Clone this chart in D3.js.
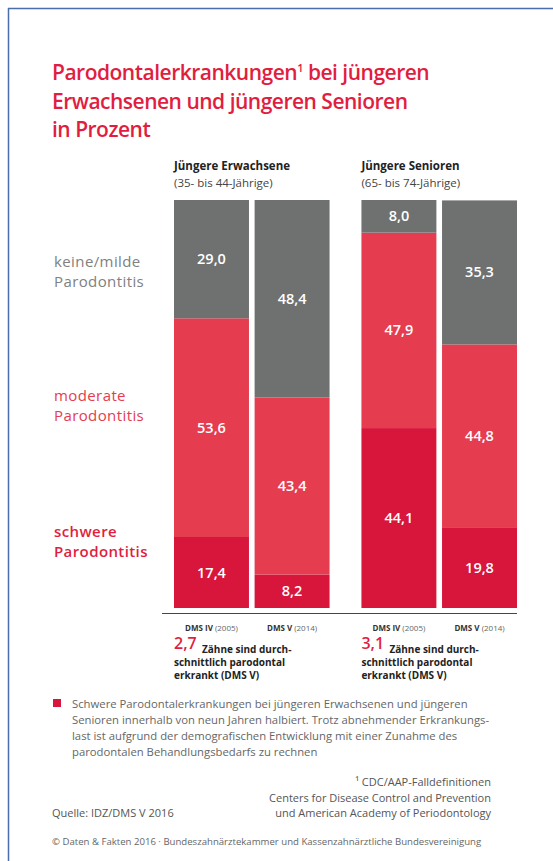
<!DOCTYPE html>
<html>
<head>
<meta charset="utf-8">
<script src="https://cdn.jsdelivr.net/npm/d3@7"></script>
<style>
body { margin: 0; background: #fff; }
svg { display: block; font-family: "Open Sans", sans-serif; }
</style>
</head>
<body>
<svg id="chart" width="553" height="861"></svg>
<script>
// Werte in Prozent
var groups = ["Jüngere Erwachsene", "Jüngere Senioren"];
var groupSub = ["(35- bis 44-Jährige)", "(65- bis 74-Jährige)"];
var studies = ["DMS IV", "DMS V"];
var studyYears = ["(2005)", "(2014)"];
var categories = ["schwer", "moderat", "keine"];
var schwer  = [17.4, 8.2, 44.1, 19.8];
var moderat = [53.6, 43.4, 47.9, 44.8];
var keine   = [29.0, 48.4, 8.0, 35.3];
var teeth = ["2,7", "3,1"];

var colors = { schwer: "#d8163c", moderat: "#e53c50", keine: "#6f7170" };
var red = "#e11d40";

var rows = [];
groups.forEach(function(g, gi) {
  studies.forEach(function(s, si) {
    var i = gi * 2 + si;
    rows.push({ group: g, study: s, schwer: schwer[i], moderat: moderat[i], keine: keine[i] });
  });
});

var svg = d3.select("#chart");

// Rahmen
svg.append("line").attr("x1", 8).attr("x2", 553).attr("y1", 8.5).attr("y2", 8.5)
  .attr("stroke", "#4a6db0").attr("stroke-width", 1.5);
svg.append("line").attr("x1", 8.5).attr("x2", 8.5).attr("y1", 8).attr("y2", 861)
  .attr("stroke", "#4a6db0").attr("stroke-width", 1.5);

// Titel
var title = ["Parodontalerkrankungen", "Erwachsenen und jüngeren Senioren", "in Prozent"];
var tt = svg.append("g").selectAll("text").data(title).enter().append("text")
  .attr("x", 52).attr("y", function(d, i) { return 80 + i * 28.5; })
  .attr("fill", red).attr("font-size", 21).attr("font-weight", 600)
  .attr("letter-spacing", -0.5)
  .text(function(d) { return d; });
var first = d3.select(tt.nodes()[0]);
first.append("tspan").attr("font-size", 11).attr("dy", -8).text("1");
first.append("tspan").attr("dy", 8).text(" bei jüngeren");

var x0 = d3.scaleBand().domain(groups).range([174, 517]).paddingInner(0.17);
var x1 = d3.scaleBand().domain(studies).range([0, x0.bandwidth()]).paddingInner(0.07);
var y = d3.scaleLinear().domain([0, 100]).range([608, 200]);

var stack = d3.stack().keys(categories);
var series = stack(rows);

svg.append("g").selectAll("g").data(series).enter().append("g")
  .attr("fill", function(d) { return colors[d.key]; })
  .selectAll("rect").data(function(d) { return d; }).enter().append("rect")
  .attr("x", function(d) { return x0(d.data.group) + x1(d.data.study); })
  .attr("width", x1.bandwidth())
  .attr("y", function(d) { return y(d[1]); })
  .attr("height", function(d) { return y(d[0]) - y(d[1]); });

// Werte
var fmt = function(v) { return d3.format(".1f")(v).replace(".", ","); };
svg.append("g").selectAll("g").data(series).enter().append("g")
  .selectAll("text").data(function(d) { return d.map(function(p) { return { p: p, key: d.key }; }); })
  .enter().append("text")
  .attr("x", function(d) { return x0(d.p.data.group) + x1(d.p.data.study) + x1.bandwidth() / 2; })
  .attr("y", function(d) { return (y(d.p[0]) + y(d.p[1])) / 2 + 5; })
  .attr("text-anchor", "middle").attr("fill", "#fff").attr("font-size", 14.5).attr("font-weight", 600)
  .text(function(d) { return fmt(d.p[1] - d.p[0]); });

// Grundlinie
svg.append("line").attr("x1", 162).attr("x2", 517).attr("y1", 613.5).attr("y2", 613.5)
  .attr("stroke", "#3f4a48").attr("stroke-width", 1);

// Gruppenköpfe
groups.forEach(function(g, gi) {
  var gx = x0(g);
  svg.append("text").attr("x", gx).attr("y", 170).attr("font-size", 11.5).attr("font-weight", 700)
    .attr("fill", "#222").text(g);
  svg.append("text").attr("x", gx).attr("y", 187).attr("font-size", 11.5)
    .attr("fill", "#444").text(groupSub[gi]);
  studies.forEach(function(s, si) {
    var t = svg.append("text").attr("x", gx + x1(s) + x1.bandwidth() / 2).attr("y", 631)
      .attr("text-anchor", "middle").attr("font-size", 8).attr("fill", "#333");
    t.append("tspan").attr("font-weight", 700).text(s + " ");
    t.append("tspan").attr("fill", "#666").text(studyYears[si]);
  });
  svg.append("text").attr("x", gx).attr("y", 649).attr("font-size", 16).attr("font-weight", 600)
    .attr("fill", red).text(teeth[gi]);
  var lines = ["Zähne sind durch-", "schnittlich parodontal", "erkrankt (DMS V)"];
  lines.forEach(function(l, li) {
    svg.append("text").attr("x", li === 0 ? gx + 28 : gx).attr("y", 653 + li * 13)
      .attr("font-size", 10).attr("font-weight", 700).attr("fill", "#222").text(l);
  });
});

// Legende links
var legend = [
  { lines: ["keine/milde", "Parodontitis"], y: 267, fill: "#808080", w: 400 },
  { lines: ["moderate", "Parodontitis"], y: 401, fill: "#e53c50", w: 400 },
  { lines: ["schwere", "Parodontitis"], y: 537, fill: "#e11d40", w: 600 }
];
legend.forEach(function(l) {
  l.lines.forEach(function(t, i) {
    svg.append("text").attr("x", 54).attr("y", l.y + i * 20).attr("font-size", 15)
      .attr("letter-spacing", 0.4)
      .attr("font-weight", l.w).attr("fill", l.fill).text(t);
  });
});

// Fußnote
svg.append("rect").attr("x", 53).attr("y", 699).attr("width", 8).attr("height", 8).attr("fill", "#d8163c");
var note = ["Schwere Parodontalerkrankungen bei jüngeren Erwachsenen und jüngeren",
  "Senioren innerhalb von neun Jahren halbiert. Trotz abnehmender Erkrankungs-",
  "last ist aufgrund der demografischen Entwicklung mit einer Zunahme des",
  "parodontalen Behandlungsbedarfs zu rechnen"];
svg.append("g").selectAll("text").data(note).enter().append("text")
  .attr("x", 72).attr("y", function(d, i) { return 708 + i * 16; })
  .attr("font-size", 11.3).attr("fill", "#666").text(function(d) { return d; });

var refs = ["\u00b9 CDC/AAP-Falldefinitionen", "Centers for Disease Control and Prevention",
  "und American Academy of Periodontology"];
svg.append("g").selectAll("text").data(refs).enter().append("text")
  .attr("x", 491).attr("y", function(d, i) { return 786 + i * 15.5; })
  .attr("text-anchor", "end").attr("font-size", 11).attr("fill", "#555").text(function(d) { return d; });
svg.append("text").attr("x", 52).attr("y", 817).attr("font-size", 11).attr("fill", "#555")
  .text("Quelle: IDZ/DMS V 2016");
svg.append("text").attr("x", 52).attr("y", 845).attr("font-size", 9.6).attr("fill", "#666")
  .text("\u00a9 Daten & Fakten 2016 \u00b7 Bundeszahnärztekammer und Kassenzahnärztliche Bundesvereinigung");
</script>
</body>
</html>
